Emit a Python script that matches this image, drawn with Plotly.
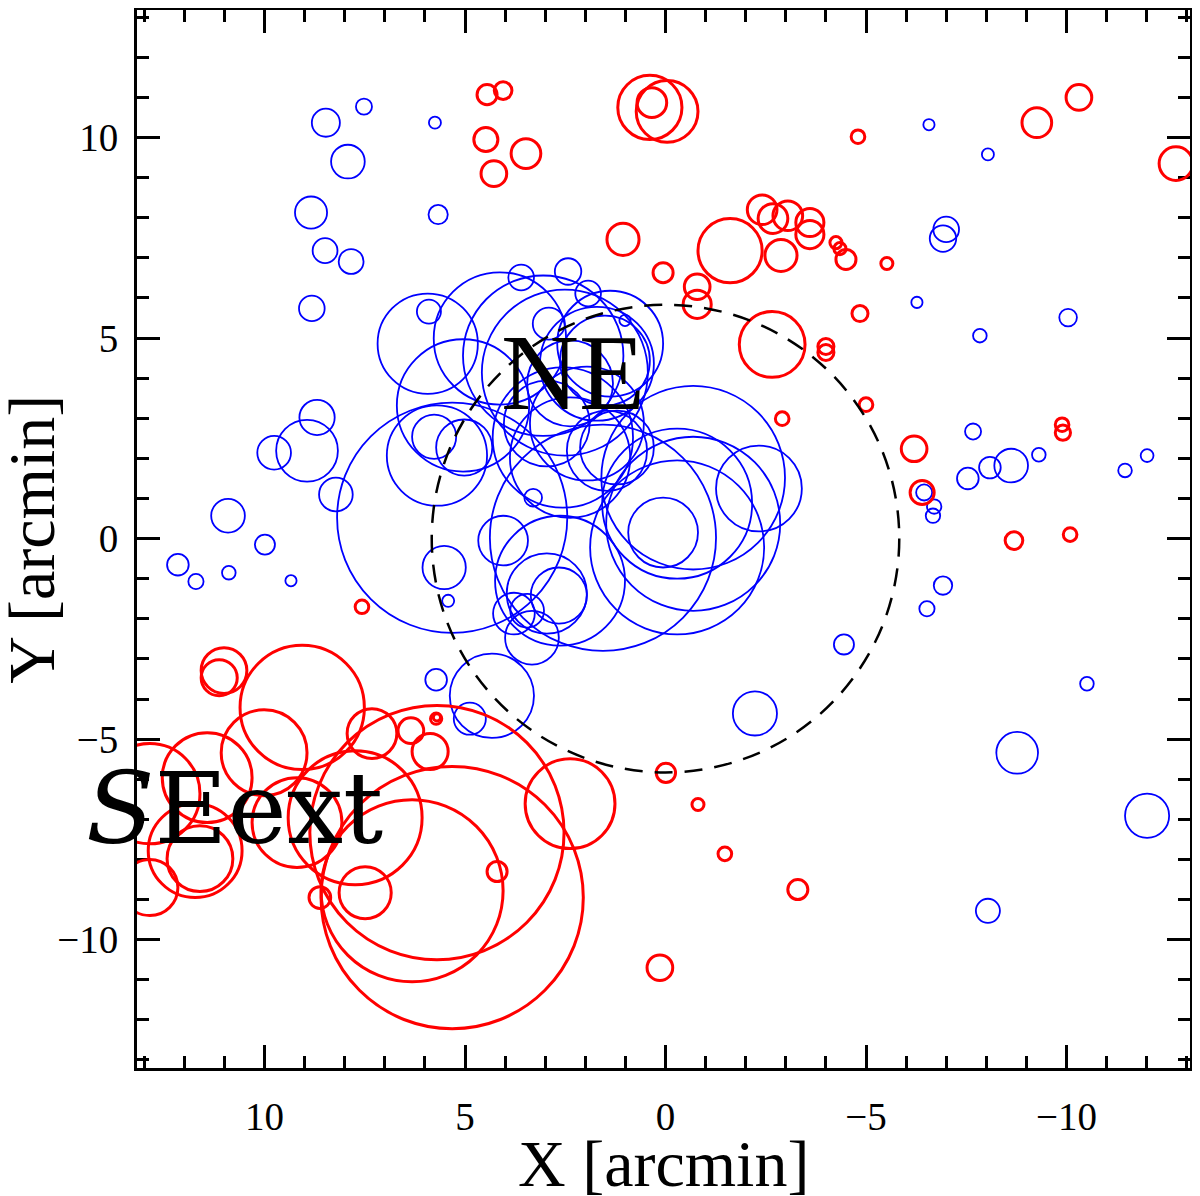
import plotly.graph_objects as go

# ---------------- data (arcmin) ----------------
blue_x = [7.52, 8.47, 5.75, 7.92, 8.84, 5.67, 8.49, 7.84, 8.82, 5.90,
          3.60, 2.43, 1.93, 2.91, 1.01, -6.57, -8.04, -7.00, -6.92, -6.27,
          -7.84, -10.04, -7.67, -9.31, -12.01, -8.62, -8.09, -7.54, -11.46, -6.45,
          -6.70, -6.67, -6.92, -6.52, -4.45, -10.51, -2.23, -8.77, -12.01, -8.04,
          5.72, 4.33, 4.88, 5.52, 5.42, 8.69, 8.94, 9.76, 8.22, 10.91,
          9.99, 12.16, 11.71, 10.89, 9.34,
          5.93, 4.13, 3.05, 2.51, 1.38, 1.71, 5.32, 5.70, 5.77, 5.02,
          5.05, 2.56, 1.96, 3.30, 4.05, 3.78, 3.45, 3.33, 2.66, 2.96,
          -2.33, 0.06, -0.29, -0.69, -0.29, -0.69, 1.56, 2.63, 2.38, 2.96,
          1.46, 2.38, 1.21, 1.51]
blue_y = [10.77, 10.37, 10.37, 9.40, 8.13, 8.08, 7.18, 6.91, 5.74, 5.66,
          6.51, 6.66, 6.11, 5.36, 5.44, 10.32, 9.58, 7.71, 7.48, 5.89,
          5.06, 5.51, 2.67, 2.09, 2.07, 1.82, 1.77, 1.50, 1.70, 1.15,
          0.80, 0.57, -1.17, -1.75, -2.64, -3.62, -4.36, -5.34, -6.91, -9.28,
          -3.52, -3.92, -4.49, -0.72, -1.55, 3.02, 2.19, 2.14, 1.10, 0.57,
          -0.15, -0.65, -1.07, -0.85, -1.05,
          4.86, 4.99, 4.56, 4.14, 4.86, 4.36, 0.52, 2.07, 2.54, 2.27,
          3.32, 2.52, 2.87, 1.02, -0.05, -1.87, -1.80, -2.47, -1.42, -1.37,
          1.25, 0.15, -0.22, 0.37, 0.87, 1.52, 0.02, -1.05, 3.87, 2.87,
          2.19, 2.02, 2.27, 4.44]
blue_r = [0.20, 0.35, 0.15, 0.42, 0.40, 0.24, 0.31, 0.31, 0.32, 0.30,
          0.32, 0.33, 0.32, 0.40, 0.14, 0.14, 0.15, 0.32, 0.33, 0.14,
          0.17, 0.22, 0.20, 0.17, 0.16, 0.42, 0.27, 0.27, 0.17, 0.20,
          0.18, 0.18, 0.23, 0.19, 0.25, 0.17, 0.55, 0.52, 0.55, 0.30,
          0.27, 1.05, 0.40, 0.54, 0.15, 0.44, 0.77, 0.42, 0.42, 0.42,
          0.25, 0.27, 0.19, 0.17, 0.14,
          1.25, 1.65, 2.00, 2.07, 1.32, 1.42, 2.87, 1.25, 0.55, 0.70,
          1.65, 1.75, 1.42, 0.22, 0.62, 0.52, 0.42, 0.67, 0.70, 1.00,
          1.07, 0.87, 2.17, 2.17, 1.87, 2.29, 2.82, 1.62, 1.07, 1.07,
          1.00, 1.50, 0.92, 1.12]

red_x = [4.45, 4.05, 4.48, 4.28, 3.48, 0.39, -0.04, 0.34, 1.06, 0.06,
         -0.79, -0.79, -1.61, -2.41, -2.68, -3.05, -3.60, -3.60, -2.88, -4.25,
         -4.35, -4.50, -5.52, -4.80, -9.26, -10.31, -12.73, -2.66, -4.00, -4.00,
         -5.00, -4.85, -2.91, -6.20, -6.40, -9.89, -9.91, -8.69, -10.09, 7.57,
         -0.01, -0.81, -1.48, -3.30, 0.14, 4.20, 8.62, 7.49, 2.38, 11.01,
         11.13, 9.06, 10.01, 11.43, 12.86, 12.86, 11.61, 11.73, 7.32, 6.35,
         5.87, 5.72, 5.70, 9.19, 7.74, 5.32, 5.70, 6.32]
red_y = [11.07, 11.17, 9.95, 9.10, 9.60, 10.75, 10.65, 10.87, 7.46, 6.63,
         6.28, 5.84, 7.18, 8.20, 7.98, 8.05, 7.88, 7.58, 7.06, 7.38,
         7.23, 6.96, 6.86, 10.02, 10.37, 11.00, 9.35, 4.84, 4.79, 4.64,
         3.34, 5.61, 2.99, 2.24, 1.15, 2.84, 2.64, -0.05, 0.10, -1.70,
         -5.84, -6.63, -7.86, -8.75, -10.70, -8.30, -8.95, -8.83, -6.61, -3.29,
         -3.47, -4.21, -5.34, -5.96, -6.36, -8.70, -7.98, -7.78, -4.86, -4.79,
         -5.31, -4.49, -4.46, -7.08, -6.96, -8.95, -7.33, -8.78]
red_r = [0.25, 0.22, 0.30, 0.32, 0.37, 0.80, 0.77, 0.37, 0.40, 0.25,
         0.32, 0.35, 0.80, 0.37, 0.37, 0.37, 0.35, 0.35, 0.40, 0.15,
         0.15, 0.25, 0.15, 0.17, 0.37, 0.32, 0.42, 0.82, 0.20, 0.20,
         0.17, 0.20, 0.17, 0.32, 0.30, 0.17, 0.19, 0.22, 0.17, 0.17,
         0.24, 0.15, 0.17, 0.25, 0.32, 0.25, 0.27, 0.65, 1.12, 0.57,
         0.45, 1.55, 1.07, 1.12, 1.25, 0.70, 0.82, 1.17, 0.62, 0.32,
         0.45, 0.14, 0.09, 1.12, 1.67, 3.27, 3.17, 2.27]

ne_radius = 5.83          # dashed reference circle, centred on (0, 0)
x_ticks = [10, 5, 0, -5, -10]
y_ticks = [-10, -5, 0, 5, 10]
x_range = [13.18, -13.08]
y_range = [-13.2, 13.18]
labels = [dict(text="NE", x=2.31, y=4.14), dict(text="<i>S</i>Eext", x=10.76, y=-6.73)]
x_title = "X [arcmin]"
y_title = "Y [arcmin]"

BLUE = "#0000ff"
RED = "#ff0000"

fig = go.Figure()
fig.add_trace(go.Scatter(x=blue_x + red_x, y=blue_y + red_y, mode="markers",
                         marker=dict(size=2, opacity=0), hoverinfo="skip",
                         showlegend=False))

shapes = []
for x, y, r in zip(blue_x, blue_y, blue_r):
    shapes.append(dict(type="circle", xref="x", yref="y", x0=x - r, x1=x + r,
                       y0=y - r, y1=y + r, line=dict(color=BLUE, width=1.8),
                       layer="above"))
for x, y, r in zip(red_x, red_y, red_r):
    shapes.append(dict(type="circle", xref="x", yref="y", x0=x - r, x1=x + r,
                       y0=y - r, y1=y + r, line=dict(color=RED, width=3),
                       layer="above"))
shapes.append(dict(type="circle", xref="x", yref="y", x0=-ne_radius, x1=ne_radius,
                   y0=-ne_radius, y1=ne_radius,
                   line=dict(color="black", width=2.5, dash="18px,12px"),
                   layer="above"))
fig.update_layout(shapes=shapes)

fig.add_annotation(text=labels[0]["text"], x=labels[0]["x"], y=labels[0]["y"],
                   xref="x", yref="y", showarrow=False,
                   font=dict(family="Liberation Serif", size=108, color="black"))
fig.add_annotation(text=labels[1]["text"], x=labels[1]["x"], y=labels[1]["y"],
                   xref="x", yref="y", showarrow=False,
                   font=dict(family="DejaVu Serif", size=100, color="black"))

# axis titles as annotations for exact placement
fig.add_annotation(text=x_title, xref="paper", yref="paper", x=0.5, y=-0.09,
                   xanchor="center", yanchor="middle", showarrow=False,
                   font=dict(family="Liberation Serif", size=66, color="black"))
fig.add_annotation(text=y_title, xref="paper", yref="paper", x=-0.101, y=0.5,
                   xanchor="center", yanchor="middle", showarrow=False, textangle=-90,
                   font=dict(family="Liberation Serif", size=66, color="black"))

axis_common = dict(showline=True, linewidth=3, linecolor="black", mirror="ticks",
                   ticks="inside", ticklen=23, tickwidth=2.5, tickcolor="black",
                   showgrid=False, zeroline=False, automargin=False,
                   minor=dict(ticks="inside", ticklen=12, tickwidth=2.5,
                              tickcolor="black", dtick=1, showgrid=False),
                   tickfont=dict(family="Liberation Serif", size=39, color="black"))

fig.update_xaxes(range=x_range, tickvals=x_ticks,
                 ticktext=[("−" + str(-v)) if v < 0 else str(v) for v in x_ticks],
                 ticklabelstandoff=12, **axis_common)
fig.update_yaxes(range=y_range, tickvals=y_ticks,
                 ticktext=[("−" + str(-v)) if v < 0 else str(v) for v in y_ticks],
                 ticklabelstandoff=8, **axis_common)

# the page body adds an 8 px margin, so the figure is made 8 px smaller
fig.update_layout(width=1192, height=1188, autosize=False,
                  margin=dict(l=129, r=10, t=2, b=128, pad=0),
                  plot_bgcolor="white", paper_bgcolor="white")

fig.write_html("out.html")
